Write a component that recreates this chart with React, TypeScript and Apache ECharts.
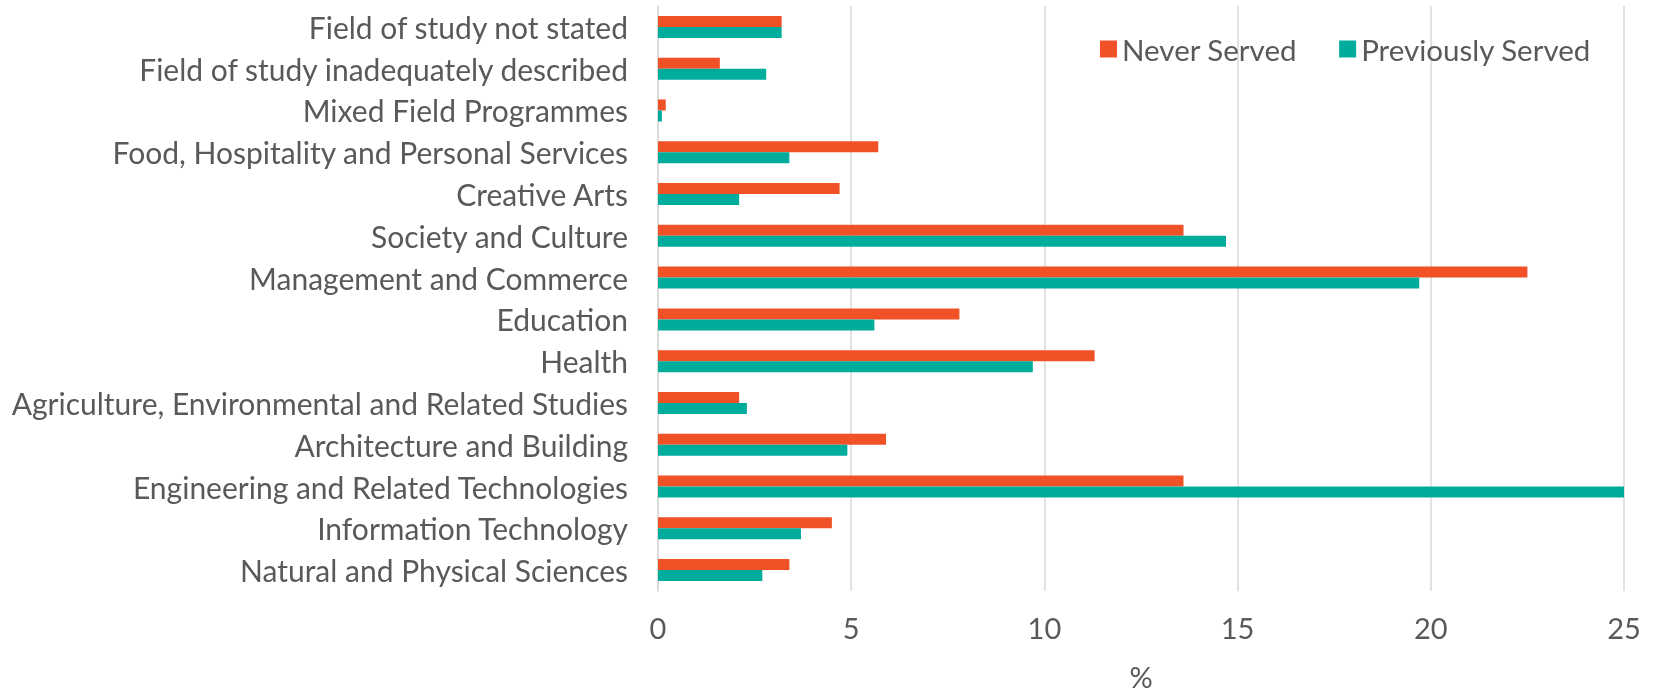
import React, { useEffect, useRef } from "react";
import * as echarts from "echarts";

const categories = [
  "Field of study not stated",
  "Field of study inadequately described",
  "Mixed Field Programmes",
  "Food, Hospitality and Personal Services",
  "Creative Arts",
  "Society and Culture",
  "Management and Commerce",
  "Education",
  "Health",
  "Agriculture, Environmental and Related Studies",
  "Architecture and Building",
  "Engineering and Related Technologies",
  "Information Technology",
  "Natural and Physical Sciences",
];

const neverServed = [3.2, 1.6, 0.2, 5.7, 4.7, 13.6, 22.5, 7.8, 11.3, 2.1, 5.9, 13.6, 4.5, 3.4];
const previouslyServed = [3.2, 2.8, 0.1, 3.4, 2.1, 14.7, 19.7, 5.6, 9.7, 2.3, 4.9, 25.0, 3.7, 2.7];

const xTicks = { min: 0, max: 25, interval: 5 };

export default function App() {
  const ref = useRef<HTMLDivElement>(null);
  useEffect(() => {
    if (!ref.current) return;
    const chart = echarts.init(ref.current, null, { renderer: "svg" });
    const font = "Lato, 'Open Sans', sans-serif";
    const textColor = "#595959";
    chart.setOption({
      animation: false,
      textStyle: { fontFamily: font },
      grid: { left: 658, right: 29, top: 6, bottom: 89, containLabel: false },
      legend: {
        left: 1095,
        top: 29,
        itemWidth: 17,
        itemHeight: 17,
        itemGap: 42,
        icon: "rect",
        textStyle: { fontSize: 29.5, color: textColor, fontFamily: font },
        data: ["Never Served", "Previously Served"],
      },
      xAxis: {
        type: "value",
        min: xTicks.min,
        max: xTicks.max,
        interval: xTicks.interval,
        name: "%",
        nameLocation: "middle",
        nameGap: 71,
        nameTextStyle: { fontSize: 29, color: textColor, fontFamily: font },
        axisLine: { show: false },
        axisTick: { show: false },
        axisLabel: { fontSize: 29, color: textColor, margin: 22, fontFamily: font },
        splitLine: { show: true, lineStyle: { color: "#D9D9D9", width: 1.5 } },
      },
      yAxis: {
        type: "category",
        inverse: true,
        data: categories,
        axisLine: { show: true, lineStyle: { color: "#D9D9D9", width: 1.5 } },
        axisTick: { show: false },
        axisLabel: { fontSize: 30, color: textColor, margin: 30, fontFamily: font },
      },
      series: [
        {
          name: "Never Served",
          type: "bar",
          data: neverServed,
          barWidth: 11,
          barGap: "0%",
          itemStyle: { color: "#F05127" },
        },
        {
          name: "Previously Served",
          type: "bar",
          data: previouslyServed,
          barWidth: 11,
          barGap: "0%",
          itemStyle: { color: "#00AC9B" },
        },
      ],
    });
    return () => chart.dispose();
  }, []);
  return (
    <div
      ref={ref}
      style={{ position: "fixed", left: 0, top: 0, width: 1653, height: 696 }}
    />
  );
}
